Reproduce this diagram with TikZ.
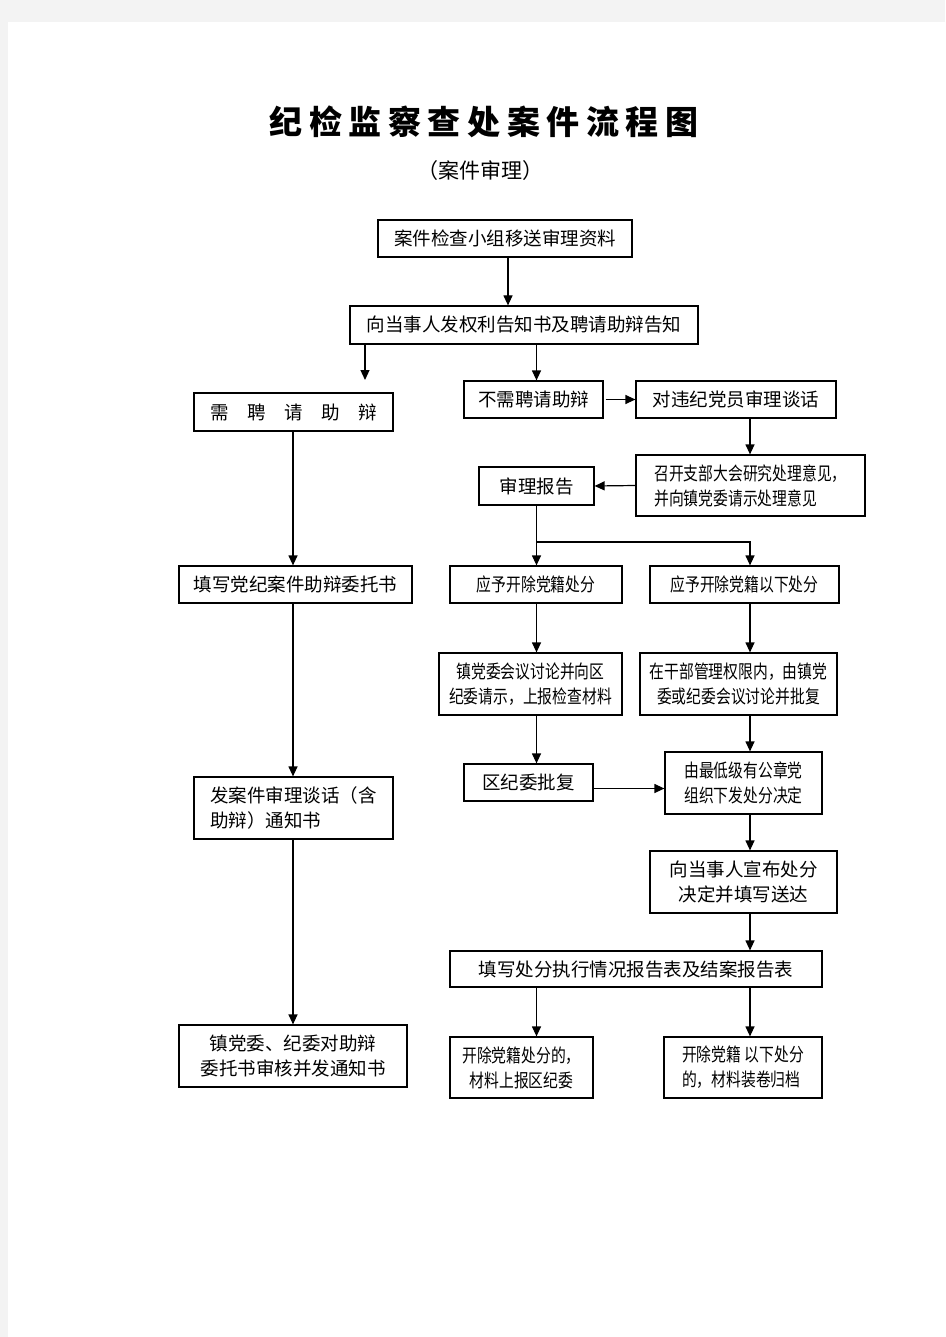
\documentclass[tikz,border=0pt]{standalone}
\usepackage{fontspec}
\usetikzlibrary{arrows.meta}
\newfontfamily\cjk{Noto Sans CJK SC}
\newfontfamily\cjknarrow[FakeStretch=0.8]{Noto Sans CJK SC}
\newfontfamily\cjktitle[LetterSpace=20]{Noto Sans CJK SC}
\definecolor{pagegray}{HTML}{F3F3F3}

\begin{document}
\begin{tikzpicture}[x=1pt,y=-1pt,
    box/.style={draw, line width=1.2pt, inner sep=0pt, align=center,
        font=\cjk\fontsize{18.5}{25}\selectfont},
    nbox/.style={box, font=\cjknarrow\fontsize{18.5}{25}\selectfont},
    arr/.style={line width=1.2pt, -{Triangle[length=10pt,width=9pt]}}]

    % page
    \fill[pagegray] (0,0) rectangle (945,1337);
    \fill[white] (8,22) rectangle (945,1337);

    \node (biaoti) at (484,122) {\cjktitle\bfseries\fontsize{33}{33}\selectfont 纪检监察查处案件流程图};
    \node (fubiaoti) at (480,171) {\cjk\fontsize{21}{21}\selectfont （案件审理）};

    % columns
    \coordinate (c0) at (508,0);
    \coordinate (c1) at (293,0);
    \coordinate (c2) at (536.5,0);
    \coordinate (c3) at (750,0);

    \node (yisong) [box, minimum width=254pt, minimum height=37pt] at (505,238.5) {案件检查小组移送审理资料};
    \node (gaozhi) [box, minimum width=348pt, minimum height=38pt] at (524,325) {向当事人发权利告知书及聘请助辩告知};
    \node (xupin) [box, minimum width=199pt, minimum height=38pt] at (293.5,412) {需　聘　请　助　辩};
    \node (buxu) [box, minimum width=139pt, minimum height=37pt] at (533.5,399.5) {不需聘请助辩};
    \node (tanhua) [box, minimum width=200pt, minimum height=37pt] at (736,399.5) {对违纪党员审理谈话};
    \node (zhibu) [nbox, align=left, minimum width=229pt, minimum height=61pt] at (750.5,485.5) {召开支部大会研究处理意见，\\并向镇党委请示处理意见};
    \node (baogao) [box, minimum width=115pt, minimum height=38pt] at (536.5,486) {审理报告};
    \node (weituo) [box, minimum width=233pt, minimum height=37pt] at (295.5,584.5) {填写党纪案件助辩委托书};
    \node (kaichu) [nbox, minimum width=172pt, minimum height=37pt] at (536,584.5) {应予开除党籍处分};
    \node (yixia) [nbox, minimum width=189pt, minimum height=37pt] at (744.5,584.5) {应予开除党籍以下处分};
    \node (zhenqing) [nbox, minimum width=183pt, minimum height=62pt] at (530.5,684) {镇党委会议讨论并向区\\纪委请示，上报检查材料};
    \node (quanxian) [nbox, minimum width=197pt, minimum height=62pt] at (738.5,684) {在干部管理权限内，由镇党\\委或纪委会议讨论并批复};
    \node (pifu) [box, minimum width=129pt, minimum height=37pt] at (528.5,782.5) {区纪委批复};
    \node (xiafa) [nbox, minimum width=157pt, minimum height=62pt] at (743.5,783) {由最低级有公章党\\组织下发处分决定};
    \node (tongzhi) [box, align=left, minimum width=199pt, minimum height=62pt] at (293.5,808) {发案件审理谈话（含\\助辩）通知书};
    \node (xuanbu) [box, minimum width=187pt, minimum height=62pt] at (743.5,882) {向当事人宣布处分\\决定并填写送达};
    \node (zhixing) [box, minimum width=372pt, minimum height=36pt] at (636,969) {填写处分执行情况报告表及结案报告表};
    \node (shenhe) [box, minimum width=228pt, minimum height=62pt] at (293,1056) {镇党委、纪委对助辩\\委托书审核并发通知书};
    \node (shangbao) [nbox, minimum width=143pt, minimum height=61pt] at (521.5,1067.5) {开除党籍处分的，\\材料上报区纪委};
    \node (guidang) [nbox, align=left, minimum width=158pt, minimum height=61pt] at (743,1067.5) {开除党籍 以下处分\\的，材料装卷归档};

    \coordinate (xuyao) at (365,380);
    \coordinate (fen) at (536.5,542);

    \draw[arr] (yisong.south -| c0) -- (gaozhi.north -| c0);
    \draw[arr] (gaozhi.south -| xuyao) -- (xuyao);
    \draw[arr] (gaozhi.south -| c2) -- (buxu.north -| c2);
    \draw[arr] ([xshift=2pt]buxu.east) -- (tanhua.west);
    \draw[arr] (tanhua.south -| c3) -- (zhibu.north -| c3);
    \draw[arr] (zhibu.west) -- (baogao.east);
    \draw[arr] (baogao.south -| c2) -- (kaichu.north -| c2);
    \draw[arr] (fen) -| (yixia.north -| c3);
    \draw[arr] (xupin.south -| c1) -- (weituo.north -| c1);
    \draw[arr] (kaichu.south -| c2) -- (zhenqing.north -| c2);
    \draw[arr] (yixia.south -| c3) -- (quanxian.north -| c3);
    \draw[arr] (zhenqing.south -| c2) -- (pifu.north -| c2);
    \draw[arr] ([yshift=-6pt]pifu.east) -- ([yshift=-6pt]pifu.east -| xiafa.west);
    \draw[arr] (quanxian.south -| c3) -- (xiafa.north -| c3);
    \draw[arr] (weituo.south -| c1) -- (tongzhi.north -| c1);
    \draw[arr] (tongzhi.south -| c1) -- (shenhe.north -| c1);
    \draw[arr] (xiafa.south -| c3) -- (xuanbu.north -| c3);
    \draw[arr] (xuanbu.south -| c3) -- (zhixing.north -| c3);
    \draw[arr] (zhixing.south -| c2) -- (shangbao.north -| c2);
    \draw[arr] (zhixing.south -| c3) -- (guidang.north -| c3);

\end{tikzpicture}
\end{document}
